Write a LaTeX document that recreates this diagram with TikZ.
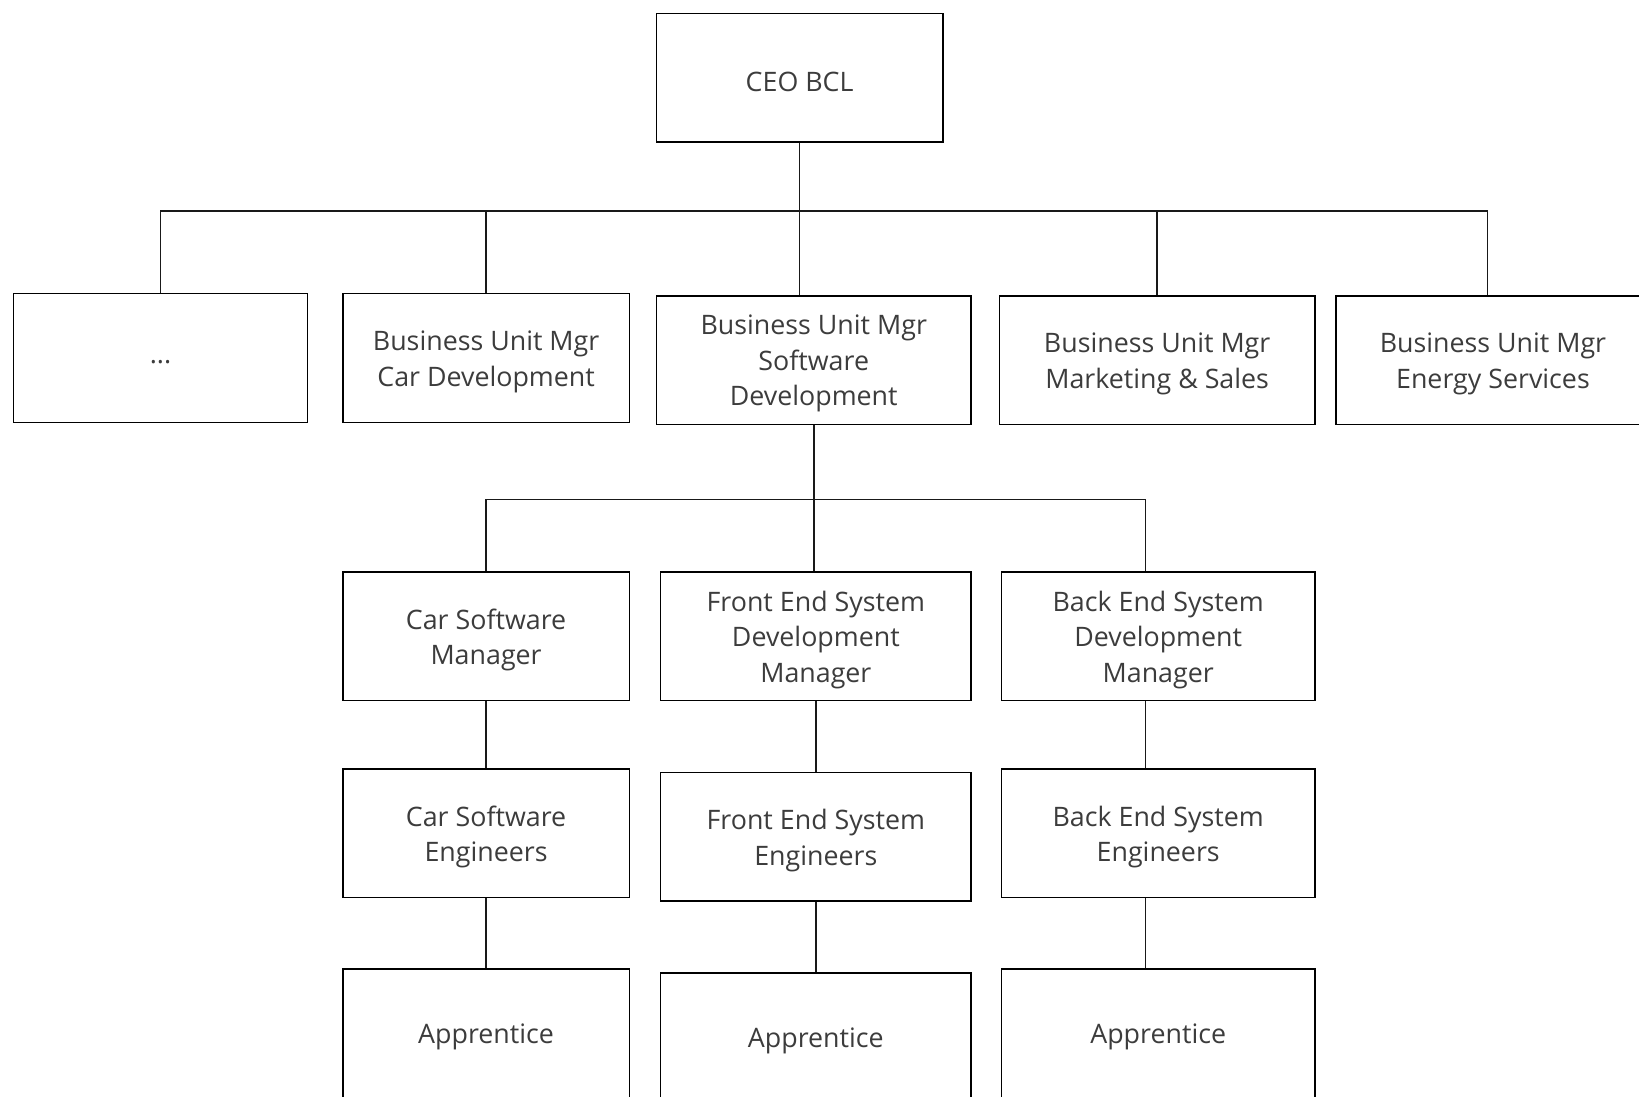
\documentclass[tikz,border=0pt]{standalone}
\usepackage{fontspec}
\setmainfont{Open Sans}
\begin{document}
\begin{tikzpicture}[x=1pt, y=-1pt,
  orgbox/.style={draw=black, line width=1.5pt, rectangle, inner sep=0pt,
    minimum height=128.6pt},
  boxtext/.style={yshift=-3.7pt, align=center, inner sep=0pt,
    text={rgb,255:red,60;green,60;blue,60},
    font=\fontsize{26.8pt}{35.5pt}\selectfont},
  link/.style={draw={rgb,255:red,25;green,25;blue,25}, line width=1.5pt}]
\useasboundingbox (0,0) rectangle (1639,1096);
\clip (0,0) rectangle (1639,1096);

% top level
\node[orgbox, minimum width=286.5pt, label={[boxtext]center:CEO BCL}] (ceo) at (799.65,77.9) {};

% business units
\node[orgbox, minimum width=293.7pt, label={[boxtext]center:...}] (dots) at (160.45,358) {};
\node[orgbox, minimum width=286.4pt, label={[boxtext]center:{Business Unit Mgr\\Car Development}}] (cardev) at (486.1,358) {};
\node[orgbox, minimum width=314.7pt, label={[boxtext]center:{Business Unit Mgr\\Software\\Development}}] (swdev) at (813.75,360.1) {};
\node[orgbox, minimum width=315.7pt, label={[boxtext]center:{Business Unit Mgr\\Marketing \& Sales}}] (mkt) at (1157.15,360.1) {};
\node[orgbox, minimum width=314.1pt, label={[boxtext]center:{Business Unit Mgr\\Energy Services}}] (energy) at (1492.95,360.1) {};

% software development managers
\node[orgbox, minimum width=286.4pt, label={[boxtext]center:{Car Software\\Manager}}] (csm) at (486.1,636.1) {};
\node[orgbox, minimum width=310.5pt, label={[boxtext]center:{Front End System\\Development\\Manager}}] (fem) at (815.85,636.1) {};
\node[orgbox, minimum width=313.6pt, label={[boxtext]center:{Back End System\\Development\\Manager}}] (bem) at (1158.2,636.1) {};

% engineers
\node[orgbox, minimum width=286.4pt, label={[boxtext]center:{Car Software\\Engineers}}] (cse) at (486.1,833.1) {};
\node[orgbox, minimum width=310.5pt, label={[boxtext]center:{Front End System\\Engineers}}] (fee) at (815.85,836.75) {};
\node[orgbox, minimum width=313.6pt, label={[boxtext]center:{Back End System\\Engineers}}] (bee) at (1158.2,833.1) {};

% apprentices
\node[orgbox, minimum width=286.4pt, label={[boxtext]center:Apprentice}] (app1) at (486.1,1033.3) {};
\node[orgbox, minimum width=310.5pt, label={[boxtext]center:Apprentice}] (app2) at (815.85,1037.5) {};
\node[orgbox, minimum width=313.6pt, label={[boxtext]center:Apprentice}] (app3) at (1158.2,1033.3) {};

% connector helper points
\coordinate (bus)    at (800.7,211);
\coordinate (bus2)   at (814.3,499.7);
\coordinate (enline) at (1487.5,0);
\coordinate (beline) at (1145.6,0);

% CEO to business units
\draw[link] (ceo.south) -- (ceo.south |- swdev.north);
\draw[link] (dots.north) -- (dots.north |- bus) -- (enline |- bus) -- (enline |- energy.north);
\draw[link] (cardev.north) -- (cardev.north |- bus);
\draw[link] (mkt.north) -- (mkt.north |- bus);

% software development to its managers
\draw[link] (swdev.south) -- (swdev.south |- fem.north);
\draw[link] (csm.north) -- (csm.north |- bus2) -- (beline |- bus2) -- (beline |- bem.north);

% managers to engineers to apprentices
\draw[link] (csm.south) -- (cse.north);
\draw[link] (cse.south) -- (app1.north);
\draw[link] (fem.south) -- (fee.north);
\draw[link] (fee.south) -- (app2.north);
\draw[link] (beline |- bem.south) -- (beline |- bee.north);
\draw[link] (beline |- bee.south) -- (beline |- app3.north);
\end{tikzpicture}
\end{document}
